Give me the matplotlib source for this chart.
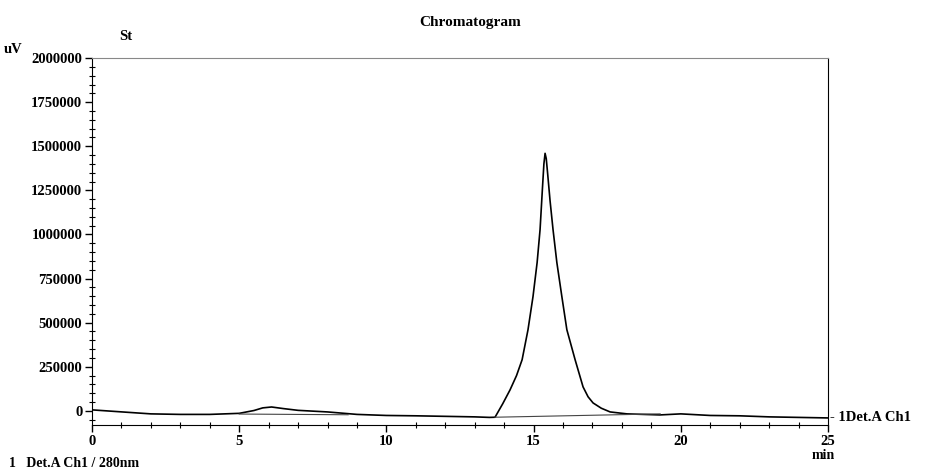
import numpy as np
import matplotlib.pyplot as plt
from matplotlib.ticker import MultipleLocator, FormatStrFormatter

# trace (time in min, signal in uV)
time_min = [0.0, 1.0, 2.0, 3.0, 4.0, 5.0, 5.5, 5.8, 6.1, 6.5, 7.0, 8.0,
            9.0, 10.0, 11.0, 12.0, 13.0, 13.5, 13.69, 13.95, 14.20, 14.42,
            14.61, 14.81, 14.98, 15.12, 15.22, 15.30, 15.35, 15.39, 15.43,
            15.48, 15.56, 15.66, 15.79, 15.96, 16.13, 16.41, 16.68, 16.85,
            17.02, 17.30, 17.60, 18.17, 19.29, 20.0, 21.0, 22.0, 23.0,
            24.0, 25.0]
signal_uv = [5700, -5700, -17000, -20000, -20000, -14000, 2000, 17000,
             22000, 13000, 3000, -6000, -20000, -26000, -28000, -31000,
             -34000, -37000, -36000, 40000, 119000, 200000, 290000, 460000,
             648000, 841000, 1028000, 1260000, 1400000, 1460000, 1430000,
             1340000, 1190000, 1028000, 841000, 648000, 460000, 290000,
             136000, 80000, 45000, 15000, -6000, -17000, -23000, -17000,
             -26000, -28000, -34000, -37000, -40000]

# integration baselines under the two peaks
base1_t = [5.0, 8.7]
base1_v = [-18000, -22000]
base2_t = [13.69, 19.3]
base2_v = [-36000, -17000]

plt.rcParams['font.family'] = ['Liberation Serif', 'DejaVu Serif']
plt.rcParams['font.weight'] = 'bold'

fig = plt.figure(figsize=(9.34, 4.72), dpi=100)
ax = fig.add_axes([0.0985, 0.0996, 0.788, 0.7774])

ax.plot(time_min, signal_uv, color='black', lw=1.2)
ax.plot(base1_t, base1_v, color='#444444', lw=0.8)
ax.plot(base2_t, base2_v, color='#444444', lw=0.8)

ax.set_xlim(0, 25)
ax.set_ylim(-80000, 2000000)
ax.xaxis.set_major_locator(MultipleLocator(5))
ax.xaxis.set_minor_locator(MultipleLocator(1))
ax.yaxis.set_major_locator(MultipleLocator(250000))
ax.yaxis.set_minor_locator(MultipleLocator(50000))
ax.yaxis.set_major_formatter(FormatStrFormatter('%d'))
ax.tick_params(which='major', direction='out', length=5, width=1,
               labelsize=10.5, pad=2)
ax.tick_params(which='minor', direction='inout', length=4, width=0.8)
ax.tick_params(top=False, right=False)
ax.spines['top'].set_color('#888888')
ax.spines['right'].set_color('black')

fig.text(0.503, 0.952, 'Chromatogram', ha='center', va='center',
         fontsize=11)
fig.text(0.128, 0.922, 'St', ha='left', va='center', fontsize=10.5)
fig.text(0.004, 0.896, 'uV', ha='left', va='center', fontsize=10.5)
fig.text(0.869, 0.036, 'min', ha='left', va='center', fontsize=10)
fig.text(0.010, 0.017, '1   Det.A Ch1 / 280nm', ha='left', va='center',
         fontsize=10)
ax.text(1.003, -40000, '- 1Det.A Ch1', transform=ax.get_yaxis_transform(),
        ha='left', va='center', fontsize=10.5)

fig.savefig('out.png', dpi=100)
